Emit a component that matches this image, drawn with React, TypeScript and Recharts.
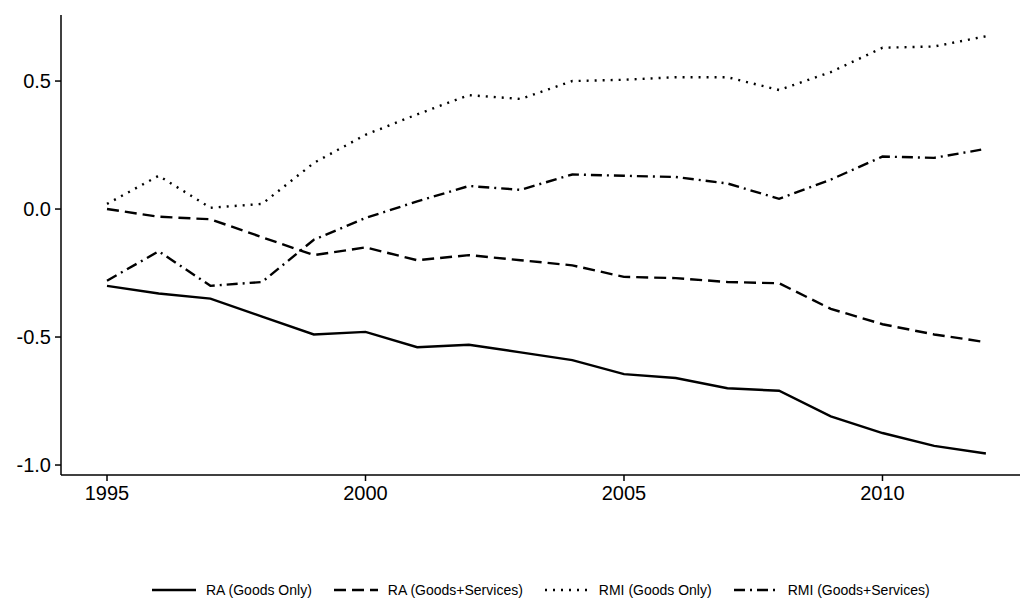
import { LineChart, Line, XAxis, YAxis } from "recharts";

const years = [1995, 1996, 1997, 1998, 1999, 2000, 2001, 2002, 2003, 2004, 2005, 2006, 2007, 2008, 2009, 2010, 2011, 2012];
const raGoods = [-0.3, -0.33, -0.35, -0.42, -0.49, -0.48, -0.54, -0.53, -0.56, -0.59, -0.645, -0.66, -0.7, -0.71, -0.81, -0.875, -0.925, -0.955];
const raGoodsServices = [0.0, -0.03, -0.04, -0.11, -0.18, -0.15, -0.2, -0.18, -0.2, -0.22, -0.265, -0.27, -0.285, -0.29, -0.39, -0.45, -0.49, -0.52];
const rmiGoods = [0.02, 0.13, 0.005, 0.02, 0.18, 0.29, 0.37, 0.445, 0.43, 0.5, 0.505, 0.515, 0.515, 0.465, 0.535, 0.63, 0.635, 0.675];
const rmiGoodsServices = [-0.28, -0.165, -0.3, -0.285, -0.12, -0.035, 0.03, 0.09, 0.075, 0.135, 0.13, 0.125, 0.1, 0.04, 0.115, 0.205, 0.2, 0.235];

const xTicks = [1995, 2000, 2005, 2010];
const yTicks = [-1, -0.5, 0, 0.5];

const series = [
  { key: "raGoods", name: "RA (Goods Only)", dash: undefined },
  { key: "raGoodsServices", name: "RA (Goods+Services)", dash: "12 6" },
  { key: "rmiGoods", name: "RMI (Goods Only)", dash: "2 6" },
  { key: "rmiGoodsServices", name: "RMI (Goods+Services)", dash: "11 5 2 5" },
];

const data = years.map((year, i) => ({
  year,
  raGoods: raGoods[i],
  raGoodsServices: raGoodsServices[i],
  rmiGoods: rmiGoods[i],
  rmiGoodsServices: rmiGoodsServices[i],
}));

const font = "'Liberation Sans', Arial, sans-serif";

export default function App() {
  return (
    <div style={{ position: "absolute", left: 0, top: 0, width: 1023, height: 601, background: "#fff", fontFamily: font }}>
      <LineChart width={1023} height={601} data={data} margin={{ top: 15, right: 3, left: 0, bottom: 81 }}>
        <XAxis
          dataKey="year"
          type="number"
          domain={[1994.11, 2012.66]}
          ticks={xTicks}
          allowDataOverflow
          height={45}
          stroke="#000"
          strokeWidth={1.5}
          tickSize={6}
          tickMargin={5}
          tick={{ fill: "#000", fontSize: 20, fontFamily: font }}
        />
        <YAxis
          type="number"
          domain={[-1.039, 0.758]}
          ticks={yTicks}
          allowDataOverflow
          width={61}
          stroke="#000"
          strokeWidth={1.5}
          tickSize={6}
          tickMargin={4}
          tickFormatter={(v: number) => v.toFixed(1)}
          tick={{ fill: "#000", fontSize: 20, fontFamily: font }}
        />
        {series.map((s) => (
          <Line
            key={s.key}
            dataKey={s.key}
            name={s.name}
            stroke="#000"
            strokeWidth={2.4}
            strokeDasharray={s.dash}
            dot={false}
            isAnimationActive={false}
          />
        ))}
      </LineChart>
      <div style={{ position: "absolute", top: 582, left: 152, display: "flex", fontSize: 14, gap: 22 }}>
        {series.map((s) => (
          <div key={s.key} style={{ display: "flex", alignItems: "center", gap: 10 }}>
            <svg width={44} height={10}>
              <line x1={0} y1={5} x2={44} y2={5} stroke="#000" strokeWidth={2.4} strokeDasharray={s.dash} />
            </svg>
            <span>{s.name}</span>
          </div>
        ))}
      </div>
    </div>
  );
}
